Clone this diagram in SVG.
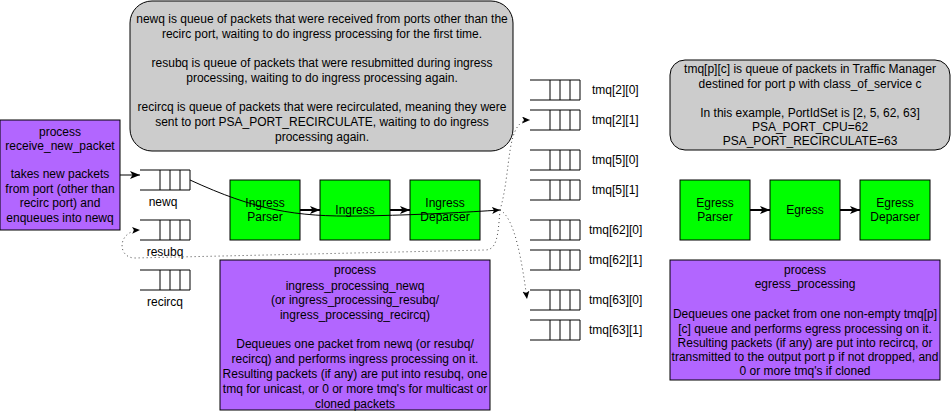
<svg xmlns="http://www.w3.org/2000/svg" width="951" height="411" viewBox="0 0 951 411">
<style>
text{font-family:"Liberation Sans",Arial,sans-serif;font-size:12px;fill:#000;text-anchor:middle}
.proc{fill:#B266FF;stroke:#000;stroke-width:1}
.stage{fill:#00FF00;stroke:#000;stroke-width:1}
.note{fill:#CCCCCC;stroke:#000;stroke-width:1}
.q{fill:none;stroke:#000;stroke-width:1}
.edge{fill:none;stroke:#000;stroke-width:1}
.thick{fill:none;stroke:#000;stroke-width:2}
.dot{fill:none;stroke:#444;stroke-width:1;stroke-dasharray:1 3}
.ql{text-anchor:start}
</style>
<defs>
<marker id="arr" markerUnits="userSpaceOnUse" markerWidth="11" markerHeight="9" refX="10" refY="4" orient="auto">
<path d="M0 0 L10 4 L0 8 L2.5 4 Z" fill="#000"/>
</marker>
<marker id="arrs" markerUnits="userSpaceOnUse" markerWidth="9" markerHeight="8" refX="8" refY="3.5" orient="auto">
<path d="M0 0 L8 3.5 L0 7 L2 3.5 Z" fill="#000"/>
</marker>
<g id="queue">
<path class="q" d="M0 0 H50 V20 H0 M20 0 V20 M30 0 V20 M40 0 V20"/>
</g>
</defs>

<g id="note-ingress-queues">
<rect class="note" x="130" y="1" width="383" height="150" rx="22"/>
<text x="322" y="23">newq is queue of packets that were received from ports other than the</text>
<text x="322" y="38">recirc port, waiting to do ingress processing for the first time.</text>
<text x="322" y="67">resubq is queue of packets that were resubmitted during ingress</text>
<text x="322" y="82">processing, waiting to do ingress processing again.</text>
<text x="322" y="111">recircq is queue of packets that were recirculated, meaning they were</text>
<text x="322" y="126">sent to port PSA_PORT_RECIRCULATE, waiting to do ingress</text>
<text x="322" y="141">processing again.</text>
</g>

<g id="note-tmq">
<rect class="note" x="670" y="60" width="280" height="90" rx="15"/>
<text x="810" y="73">tmq[p][c] is queue of packets in Traffic Manager</text>
<text x="810" y="88">destined for port p with class_of_service c</text>
<text x="810" y="117">In this example, PortIdSet is [2, 5, 62, 63]</text>
<text x="810" y="131">PSA_PORT_CPU=62</text>
<text x="810" y="145">PSA_PORT_RECIRCULATE=63</text>
</g>

<g id="proc-receive">
<rect class="proc" x="0" y="120" width="120" height="110"/>
<text x="60" y="136">process</text>
<text x="60" y="150">receive_new_packet</text>
<text x="60" y="178">takes new packets</text>
<text x="60" y="193">from port (other than</text>
<text x="60" y="207">recirc port) and</text>
<text x="60" y="222">enqueues into newq</text>
</g>

<g id="newq">
<use href="#queue" x="140" y="170"/>
<text x="163" y="206">newq</text>
</g>
<g id="resubq">
<use href="#queue" x="140" y="220"/>
<text x="165" y="256">resubq</text>
</g>
<g id="recircq">
<use href="#queue" x="140" y="270"/>
<text x="165" y="306">recircq</text>
</g>

<g id="ingress-parser">
<rect class="stage" x="230" y="180" width="70" height="60"/>
<text x="265" y="207">Ingress</text>
<text x="265" y="221">Parser</text>
</g>
<g id="ingress">
<rect class="stage" x="320" y="180" width="70" height="60"/>
<text x="355" y="214">Ingress</text>
</g>
<g id="ingress-deparser">
<rect class="stage" x="410" y="180" width="70" height="60"/>
<text x="445" y="207">Ingress</text>
<text x="445" y="221">Deparser</text>
</g>

<g id="tmq-2-0"><use href="#queue" x="530" y="80"/><text class="ql" x="592" y="94">tmq[2][0]</text></g>
<g id="tmq-2-1"><use href="#queue" x="530" y="110"/><text class="ql" x="592" y="124">tmq[2][1]</text></g>
<g id="tmq-5-0"><use href="#queue" x="530" y="150"/><text class="ql" x="592" y="164">tmq[5][0]</text></g>
<g id="tmq-5-1"><use href="#queue" x="530" y="180"/><text class="ql" x="592" y="194">tmq[5][1]</text></g>
<g id="tmq-62-0"><use href="#queue" x="530" y="220"/><text class="ql" x="589" y="234">tmq[62][0]</text></g>
<g id="tmq-62-1"><use href="#queue" x="530" y="250"/><text class="ql" x="589" y="264">tmq[62][1]</text></g>
<g id="tmq-63-0"><use href="#queue" x="530" y="290"/><text class="ql" x="589" y="304">tmq[63][0]</text></g>
<g id="tmq-63-1"><use href="#queue" x="530" y="320"/><text class="ql" x="589" y="334">tmq[63][1]</text></g>

<g id="egress-parser">
<rect class="stage" x="680" y="180" width="70" height="60"/>
<text x="715" y="207">Egress</text>
<text x="715" y="221">Parser</text>
</g>
<g id="egress">
<rect class="stage" x="770" y="180" width="70" height="60"/>
<text x="805" y="214">Egress</text>
</g>
<g id="egress-deparser">
<rect class="stage" x="860" y="180" width="70" height="60"/>
<text x="895" y="207">Egress</text>
<text x="895" y="221">Deparser</text>
</g>

<g id="proc-ingress">
<rect class="proc" x="220" y="260" width="270" height="150"/>
<text x="355" y="274">process</text>
<text x="355" y="290">ingress_processing_newq</text>
<text x="355" y="304">(or ingress_processing_resubq/</text>
<text x="355" y="319">ingress_processing_recircq)</text>
<text x="355" y="348">Dequeues one packet from newq (or resubq/</text>
<text x="355" y="363">recircq) and performs ingress processing on it.</text>
<text x="355" y="378">Resulting packets (if any) are put into resubq, one</text>
<text x="355" y="393">tmq for unicast, or 0 or more tmq's for multicast or</text>
<text x="355" y="408">cloned packets</text>
</g>

<g id="proc-egress">
<rect class="proc" x="670" y="260" width="270" height="120"/>
<text x="805" y="274">process</text>
<text x="805" y="288">egress_processing</text>
<text x="805" y="318">Dequeues one packet from one non-empty tmq[p]</text>
<text x="805" y="333">[c] queue and performs egress processing on it.</text>
<text x="805" y="347">Resulting packets (if any) are put into recircq, or</text>
<text x="805" y="361">transmitted to the output port p if not dropped, and</text>
<text x="805" y="375">0 or more tmq's if cloned</text>
</g>

<g id="connectors">
<path class="edge" d="M120 175 H140" marker-end="url(#arr)"/>
<path class="thick" d="M300 210 H320" marker-end="url(#arr)"/>
<path class="thick" d="M390 210 H410" marker-end="url(#arr)"/>
<path class="thick" d="M750 210 H770" marker-end="url(#arr)"/>
<path class="thick" d="M840 210 H860" marker-end="url(#arr)"/>
<path class="edge" d="M190 180 C255 210 295 217 360 216 C420 215 470 212 500 210" marker-end="url(#arrs)"/>
<path class="dot" d="M500 210 C512 170 505 120 530 120" marker-end="url(#arrs)"/>
<path class="dot" d="M500 210 C515 218 522 262 527 299" marker-end="url(#arrs)"/>
<path class="dot" d="M500 210 C498 236 497 250 485 250 L135 258 C117 258 117 231 140 230" marker-end="url(#arrs)"/>
</g>
</svg>
